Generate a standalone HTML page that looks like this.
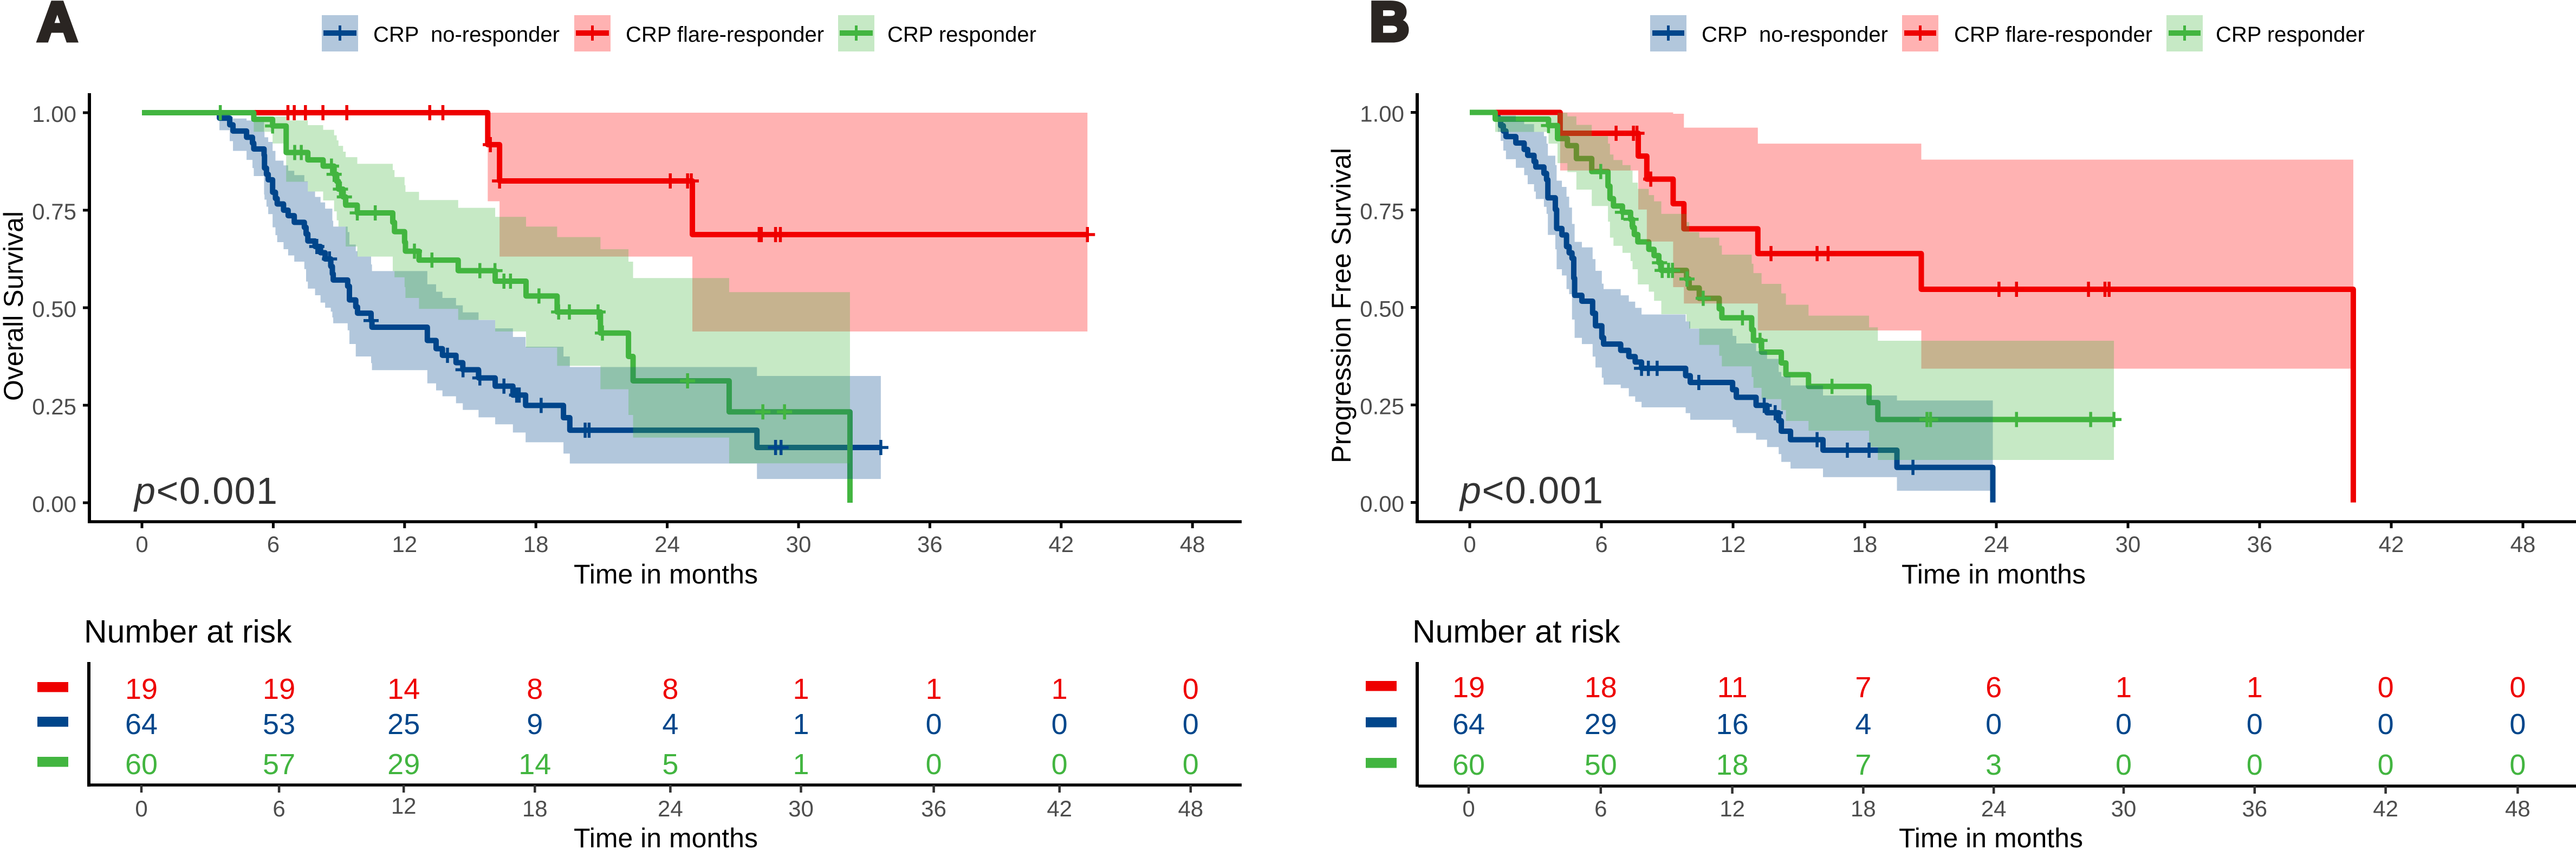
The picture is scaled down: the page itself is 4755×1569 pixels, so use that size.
<!DOCTYPE html>
<html lang="en">
<head>
<meta charset="utf-8">
<title>Kaplan-Meier survival curves by CRP response</title>
<style>
html,body{margin:0;padding:0;background:#fff;}
body{width:4755px;height:1569px;overflow:hidden;}
svg{display:block;font-family:"Liberation Sans",Arial,sans-serif;}
.tick{fill:#4d4d4d;font-size:42px;}
.title{fill:#000;font-size:50px;}
.legend-text{fill:#000;font-size:40px;}
.risk-title{fill:#000;font-size:59px;}
.panel-letter{fill:#2a2522;stroke:#2a2522;stroke-width:7px;font-size:102px;font-weight:bold;}
.pval{fill:#333;font-size:70px;letter-spacing:1.5px;}
</style>
</head>
<body>
<svg id="chart" xmlns="http://www.w3.org/2000/svg" width="4755" height="1569" viewBox="0 0 4755 1569">
  <rect width="4755" height="1569" fill="#fff"/>

  <g>
    <text class="panel-letter" x="69" y="75">A</text>
    <g>
      <g>
        <rect x="594" y="28" width="67" height="67" fill="#00468b" fill-opacity="0.3"/>
        <rect x="597" y="56" width="61" height="10" fill="#00468b"/>
        <rect x="625" y="47" width="5" height="28" fill="#00468b"/>
        <text class="legend-text" x="689" y="77" xml:space="preserve">CRP  no-responder</text>
      </g>
      <g>
        <rect x="1060" y="28" width="67" height="67" fill="#ff0000" fill-opacity="0.3"/>
        <rect x="1063" y="56" width="61" height="10" fill="#ee0000"/>
        <rect x="1091" y="47" width="5" height="28" fill="#ee0000"/>
        <text class="legend-text" x="1155" y="77">CRP flare-responder</text>
      </g>
      <g>
        <rect x="1547" y="28" width="67" height="67" fill="#42b540" fill-opacity="0.3"/>
        <rect x="1550" y="56" width="61" height="10" fill="#42b540"/>
        <rect x="1578" y="47" width="5" height="28" fill="#42b540"/>
        <text class="legend-text" x="1638" y="77">CRP responder</text>
      </g>
    </g>
    <text class="title" transform="translate(42,565) rotate(-90)" text-anchor="middle">Overall Survival</text>
    <text class="title" x="1229" y="1077" text-anchor="middle">Time in months</text>
    <text class="pval" x="248" y="930"><tspan font-style="italic">p</tspan>&lt;0.001</text>
    <text class="risk-title" x="155" y="1186">Number at risk</text>
    <text class="title" x="1229" y="1564" text-anchor="middle">Time in months</text>
  </g>

  <g>
    <text class="panel-letter" x="2528" y="75">B</text>
    <g>
      <g>
        <rect x="3046" y="28" width="67" height="67" fill="#00468b" fill-opacity="0.3"/>
        <rect x="3050" y="56" width="59" height="10" fill="#00468b"/>
        <rect x="3077" y="47" width="5" height="28" fill="#00468b"/>
        <text class="legend-text" x="3141" y="77" xml:space="preserve">CRP  no-responder</text>
      </g>
      <g>
        <rect x="3511" y="28" width="67" height="67" fill="#ff0000" fill-opacity="0.3"/>
        <rect x="3515" y="56" width="59" height="10" fill="#ee0000"/>
        <rect x="3542" y="47" width="5" height="28" fill="#ee0000"/>
        <text class="legend-text" x="3607" y="77">CRP flare-responder</text>
      </g>
      <g>
        <rect x="3999" y="28" width="67" height="67" fill="#42b540" fill-opacity="0.3"/>
        <rect x="4003" y="56" width="59" height="10" fill="#42b540"/>
        <rect x="4030" y="47" width="5" height="28" fill="#42b540"/>
        <text class="legend-text" x="4090" y="77">CRP responder</text>
      </g>
    </g>
    <text class="title" transform="translate(2493,564) rotate(-90)" text-anchor="middle" textLength="582" lengthAdjust="spacing">Progression Free Survival</text>
    <text class="title" x="3680" y="1077" text-anchor="middle">Time in months</text>
    <text class="pval" x="2695" y="929"><tspan font-style="italic">p</tspan>&lt;0.001</text>
    <text class="risk-title" x="2607" y="1186">Number at risk</text>
    <text class="title" x="3675" y="1564" text-anchor="middle">Time in months</text>
  </g>
</svg>

<script>
// ---- shared axis data ----
const timeTicks = [0, 6, 12, 18, 24, 30, 36, 42, 48];
const survivalTicks = [0, 0.25, 0.5, 0.75, 1];
const survivalTickLabels = ['0.00', '0.25', '0.50', '0.75', '1.00'];

// ---- panel A: overall survival ----
const aBlueTime = [0,3.54,4.01,4.16,4.78,5.05,5.11,5.58,5.6,5.69,5.77,5.97,6.1,6.18,6.47,6.68,6.96,7.42,7.5,7.58,7.91,8.16,8.37,8.63,8.7,8.74,9.4,9.48,9.77,9.85,10.47,10.51,13.04,13.44,13.73,14.35,14.66,15.38,16.14,16.95,17.53,19.26,19.55,28.1];
const aBlueSurv = [1,.986,.969,.953,.937,.922,.907,.891,.858,.842,.828,.796,.78,.766,.75,.736,.719,.706,.689,.671,.657,.641,.625,.606,.587,.571,.555,.52,.502,.486,.467,.45,.416,.395,.378,.359,.341,.32,.299,.276,.2495,.218,.186,.1417];
const aBlueUpper = [1,.995,.99,.985,.98,.976,.976,.951,.937,.937,.925,.902,.877,.877,.865,.851,.84,.824,.824,.798,.784,.77,.754,.754,.723,.708,.694,.662,.645,.631,.611,.594,.56,.541,.525,.506,.488,.4685,.447,.425,.4,.375,.348,.325];
const aBlueLower = [1,.955,.927,.902,.879,.858,.8375,.79,.777,.759,.74,.706,.686,.668,.65,.634,.618,.599,.567,.549,.532,.513,.5,.49,.475,.46,.442,.407,.375,.375,.358,.34,.306,.288,.273,.255,.238,.219,.201,.18,.155,.126,.1005,.061];
const aBlueEnd = 33.76;
const aBlueCensor = [7.99,8.57,10.47,13.96,14.67,15.44,16.54,17.12,17.24,18.24,20.25,20.43,28.95,29.2,33.76];

const aRedTime = [0,15.8,16.34,25.15];
const aRedSurv = [1,.918,.825,.6875];
const aRedUpper = [1,1,1,1];
const aRedLower = [1,.773,.631,.439];
const aRedEnd = 43.2;
const aRedCensor = [6.67,6.96,7.47,8.27,9.36,13.15,13.75,15.92,16.34,24.14,24.93,25.1,28.2,28.3,28.95,29.17,43.2];

const aGreenTime = [0,5.11,5.97,6.59,7.58,8.28,8.78,8.9,8.98,9.19,9.31,9.84,11.46,11.54,12,12.04,12.66,14.45,16.14,17.55,18.97,20.95,22.23,22.44,26.83,32.35];
const aGreenSurv = [1,.983,.966,.898,.879,.863,.842,.824,.804,.784,.763,.743,.719,.695,.668,.645,.622,.595,.568,.53,.489,.435,.375,.3125,.233,0];
const aGreenUpper = [1,.99,.99,.98,.968,.956,.942,.929,.915,.9,.886,.869,.853,.835,.814,.797,.776,.756,.733,.708,.681,.65,.618,.576,.54,null];
const aGreenLower = [1,.951,.921,.823,.798,.775,.747,.724,.708,.708,.657,.631,.594,.578,.553,.525,.497,.469,.439,.398,.351,.291,.225,.167,.101,null];
const aGreenEnd = 32.35;
const aGreenCensor = [3.58,5.97,6.98,7.28,8.66,8.78,9.07,9.25,9.84,10.66,12.45,13.25,15.44,16.13,16.54,16.84,18.14,19.04,19.53,20.84,21.04,24.93,28.37,29.36];

const aRiskRed = [19,19,14,8,8,1,1,1,0];
const aRiskBlue = [64,53,25,9,4,1,0,0,0];
const aRiskGreen = [60,57,29,14,5,1,0,0,0];

// ---- panel B: progression free survival ----
const bBlueTime = [0,1.28,1.41,1.53,1.65,2.1,2.48,2.64,2.93,3.01,3.38,3.5,3.56,3.9,3.96,4.2,4.41,4.53,4.66,4.74,4.78,5.11,5.6,5.73,6.02,6.1,6.88,7.25,7.54,7.83,9.84,10.05,11.98,12.15,13.05,13.55,14.08,14.2,14.62,16.1,19.47,23.84];
const bBlueSurv = [1,.983,.966,.9525,.938,.9215,.905,.89,.874,.86,.8437,.8275,.781,.751,.7025,.686,.656,.64,.626,.575,.531,.516,.485,.453,.4225,.406,.39,.374,.36,.344,.325,.3077,.289,.2697,.249,.23,.2095,.1827,.161,.134,.09,0];
const bBlueUpper = [1,.992,.992,.992,.992,.978,.97,.97,.95,.95,.939,.92,.889,.865,.825,.809,.784,.756,.714,.714,.668,.654,.624,.594,.561,.547,.531,.515,.499,.482,.464,.4456,.427,.4077,.388,.368,.3345,.323,.3,.2743,.2614,null];
const bBlueLower = [1,.95,.927,.902,.88,.858,.839,.816,.797,.778,.758,.74,.686,.649,.598,.582,.547,.534,.469,.469,.422,.406,.374,.346,.32,.302,.293,.272,.258,.244,.229,.212,.193,.178,.161,.142,.124,.104,.087,.065,.03,null];
const bBlueEnd = 23.84;
const bBlueCensor = [7.83,8.14,8.54,10.44,13.42,13.92,15.83,17.21,18.2,20.2];

const bRedTime = [0,4.12,7.68,8.07,9.27,9.76,13.13,20.58,40.27];
const bRedSurv = [1,.9465,.888,.829,.766,.7016,.638,.5465,0];
const bRedUpper = [1,1,1,1,.9965,.961,.92,.879,null];
const bRedLower = [1,.851,.751,.669,.552,.51,.441,.343,null];
const bRedEnd = 40.27;
const bRedCensor = [6.67,7.46,7.62,8.25,13.73,15.83,16.33,24.12,24.92,28.2,28.95,29.14];

const bGreenTime = [0,1.16,3.59,4,4.45,4.86,5.56,6.3,6.39,6.55,6.96,7.33,7.42,7.5,7.66,8.16,8.4,8.62,8.73,9.88,10,10.46,11.37,11.49,12.85,12.93,13.3,14.2,14.41,15.44,18.2,18.6];
const bGreenSurv = [1,.9826,.9664,.933,.915,.8817,.8484,.811,.779,.76,.744,.726,.705,.687,.668,.649,.633,.6146,.595,.573,.55,.5234,.4965,.4734,.443,.4155,.3854,.3577,.3276,.2975,.256,.2127];
const bGreenUpper = [1,.992,.992,.999,.99,.968,.939,.92,.892,.878,.865,.851,.82,.82,.804,.788,.772,.772,.74,.719,.693,.679,.6586,.6354,.612,.588,.5604,.536,.507,.479,.449,.4146];
const bGreenLower = [1,.95,.92,.87,.847,.802,.76,.72,.679,.658,.64,.619,.598,.598,.559,.5405,.517,.517,.4826,.464,.446,.404,.376,.349,.3216,.294,.265,.237,.209,.184,.142,.109];
const bGreenEnd = 29.36;
const bGreenCensor = [3.59,5.97,6.96,7.35,8.65,8.77,9.06,9.24,9.9,10.64,12.43,13.23,16.51,20.84,21,24.92,28.3,29.36];

const bRiskRed = [19,18,11,7,6,1,1,0,0];
const bRiskBlue = [64,29,16,4,0,0,0,0,0];
const bRiskGreen = [60,50,18,7,3,0,0,0,0];

// ---- drawing ----
const SVGNS = 'http://www.w3.org/2000/svg';
const root = document.getElementById('chart');
const BLUE = '#00468b', RED = '#ee0000', GREEN = '#42b540';

function make(parent, tag, attrs) {
  const n = document.createElementNS(SVGNS, tag);
  for (const k in attrs) n.setAttribute(k, attrs[k]);
  parent.appendChild(n);
  return n;
}

function drawPanel(cfg) {
  const X = t => cfg.x0 + cfg.xk * t;
  const Y = s => cfg.y0 - cfg.yk * s;
  const TX = (t, i) => cfg.tx0 + cfg.txk * t + cfg.tableNudge[i];

  const g = make(root, 'g', {});
  
  

  // step lines first, ribbons drawn over them, censor marks on top
  cfg.series.forEach(sr => {
    let d = 'M' + X(sr.time[0]) + ' ' + Y(sr.surv[0]);
    for (let i = 1; i < sr.time.length; i++) {
      d += 'H' + X(sr.time[i]) + 'V' + Y(sr.surv[i]);
    }
    d += 'H' + X(sr.end);
    const p = make(g, 'path', {d: d, fill: 'none', stroke: sr.color, 'stroke-width': 10, 'stroke-linejoin': 'round', 'stroke-linecap': 'butt'});
    
    
  });

  cfg.series.forEach(sr => {
    const rows = [];
    sr.time.forEach((t, i) => { if (sr.upper[i] !== null) rows.push(i); });
    let top = '', bottom = '';
    rows.forEach((i, k) => {
      const next = k + 1 < rows.length ? sr.time[rows[k + 1]] : sr.end;
      top += (k ? 'L' : 'M') + X(sr.time[i]) + ' ' + Y(sr.upper[i]) + 'L' + X(next) + ' ' + Y(sr.upper[i]);
      bottom = 'L' + X(next) + ' ' + Y(sr.lower[i]) + 'L' + X(sr.time[i]) + ' ' + Y(sr.lower[i]) + bottom;
    });
    const r = make(g, 'path', {d: top + bottom + 'Z', fill: sr.ribbon, 'fill-opacity': 0.3, stroke: 'none'});
    
    
  });

  cfg.series.forEach(sr => {
    sr.censor.forEach(tc => {
      let idx = 0;
      sr.time.forEach((t, i) => { if (t <= tc) idx = i; });
      const cx = X(tc), cy = Y(sr.surv[idx]);
      const m = make(g, 'path', {d: 'M' + (cx - 14) + ' ' + cy + 'H' + (cx + 14) + 'M' + cx + ' ' + (cy - 14) + 'V' + (cy + 14), stroke: sr.color, 'stroke-width': 5.5, fill: 'none'});
      
      
    });
  });

  // main axes
  const yAxis = make(g, 'line', {x1: cfg.axisX, x2: cfg.axisX, y1: 172, y2: 965.5, stroke: '#000', 'stroke-width': 6});
  
  
  const xAxis = make(g, 'line', {x1: cfg.axisX - 3, x2: cfg.axisRight, y1: 963, y2: 963, stroke: '#000', 'stroke-width': 5.5});
  
  

  survivalTicks.forEach((v, i) => {
    const tk = make(g, 'line', {x1: cfg.axisX - 12, x2: cfg.axisX, y1: Y(v), y2: Y(v), stroke: '#000', 'stroke-width': 5});
    
    
    const lb = make(g, 'text', {x: cfg.axisX - 24, y: Y(v) + 17, 'text-anchor': 'end', class: 'tick'});
    lb.textContent = survivalTickLabels[i];
    
    
  });

  timeTicks.forEach(v => {
    const tk = make(g, 'line', {x1: X(v), x2: X(v), y1: 963, y2: 975, stroke: '#000', 'stroke-width': 5});
    
    
    const lb = make(g, 'text', {x: X(v), y: 1019, 'text-anchor': 'middle', class: 'tick'});
    lb.textContent = v;
    
    
  });

  // risk table
  const t = make(root, 'g', {});
  
  

  const tyAxis = make(t, 'line', {x1: cfg.tableAxisX, x2: cfg.tableAxisX, y1: 1222, y2: 1452, stroke: '#000', 'stroke-width': 6});
  
  
  const txAxis = make(t, 'line', {x1: cfg.tableAxisX + 2, x2: cfg.axisRight, y1: cfg.tableAxisY, y2: cfg.tableAxisY, stroke: '#000', 'stroke-width': 5.5});
  
  

  timeTicks.forEach((v, i) => {
    const tk = make(t, 'line', {x1: TX(v, i), x2: TX(v, i), y1: cfg.tableAxisY, y2: cfg.tableAxisY + 14, stroke: '#333', 'stroke-width': 4.5});
    
    
    const lb = make(t, 'text', {x: TX(v, i), y: 1507 - ((cfg.id === 'a' && v === 12) ? 5 : 0), 'text-anchor': 'middle', class: 'tick'});
    lb.textContent = v;
    
    
  });

  cfg.risk.forEach(row => {
    const sw = make(t, 'rect', {x: cfg.swatchX, y: row.swatchY, width: 57, height: 18.5, fill: row.color});
    
    
    row.values.forEach((v, i) => {
      const lb = make(t, 'text', {x: TX(timeTicks[i], i), y: row.baseline, 'text-anchor': 'middle', fill: row.color, 'font-size': 54});
      lb.textContent = v;
      
      
    });
  });
}

drawPanel({
  id: 'a', x0: 262, xk: 40.4, y0: 928, yk: 720, axisX: 165, axisRight: 2292,
  tx0: 261, txk: 40.35, tableAxisX: 164, tableAxisY: 1449, swatchX: 69,
  tableNudge: [0, 12, 0, 0, 8, 7, 10, 0, 0],
  series: [
    {key: 'no-responder', color: BLUE, ribbon: BLUE, time: aBlueTime, surv: aBlueSurv, upper: aBlueUpper, lower: aBlueLower, end: aBlueEnd, censor: aBlueCensor},
    {key: 'flare-responder', color: RED, ribbon: '#ff0000', time: aRedTime, surv: aRedSurv, upper: aRedUpper, lower: aRedLower, end: aRedEnd, censor: aRedCensor},
    {key: 'responder', color: GREEN, ribbon: GREEN, time: aGreenTime, surv: aGreenSurv, upper: aGreenUpper, lower: aGreenLower, end: aGreenEnd, censor: aGreenCensor}
  ],
  risk: [
    {key: 'flare-responder', color: RED, values: aRiskRed, baseline: 1290, swatchY: 1259},
    {key: 'no-responder', color: BLUE, values: aRiskBlue, baseline: 1355, swatchY: 1323},
    {key: 'responder', color: GREEN, values: aRiskGreen, baseline: 1429, swatchY: 1397}
  ]
});

drawPanel({
  id: 'b', x0: 2713, xk: 40.5, y0: 927.5, yk: 720, axisX: 2616, axisRight: 4755,
  tx0: 2711, txk: 40.3, tableAxisX: 2616, tableAxisY: 1451, swatchX: 2521,
  tableNudge: [0, 2, 3, 3, 2, 0, 0, 0, 2],
  series: [
    {key: 'no-responder', color: BLUE, ribbon: BLUE, time: bBlueTime, surv: bBlueSurv, upper: bBlueUpper, lower: bBlueLower, end: bBlueEnd, censor: bBlueCensor},
    {key: 'flare-responder', color: RED, ribbon: '#ff0000', time: bRedTime, surv: bRedSurv, upper: bRedUpper, lower: bRedLower, end: bRedEnd, censor: bRedCensor},
    {key: 'responder', color: GREEN, ribbon: GREEN, time: bGreenTime, surv: bGreenSurv, upper: bGreenUpper, lower: bGreenLower, end: bGreenEnd, censor: bGreenCensor}
  ],
  risk: [
    {key: 'flare-responder', color: RED, values: bRiskRed, baseline: 1287, swatchY: 1257},
    {key: 'no-responder', color: BLUE, values: bRiskBlue, baseline: 1355, swatchY: 1324},
    {key: 'responder', color: GREEN, values: bRiskGreen, baseline: 1430, swatchY: 1399}
  ]
});
</script>
</body>
</html>
